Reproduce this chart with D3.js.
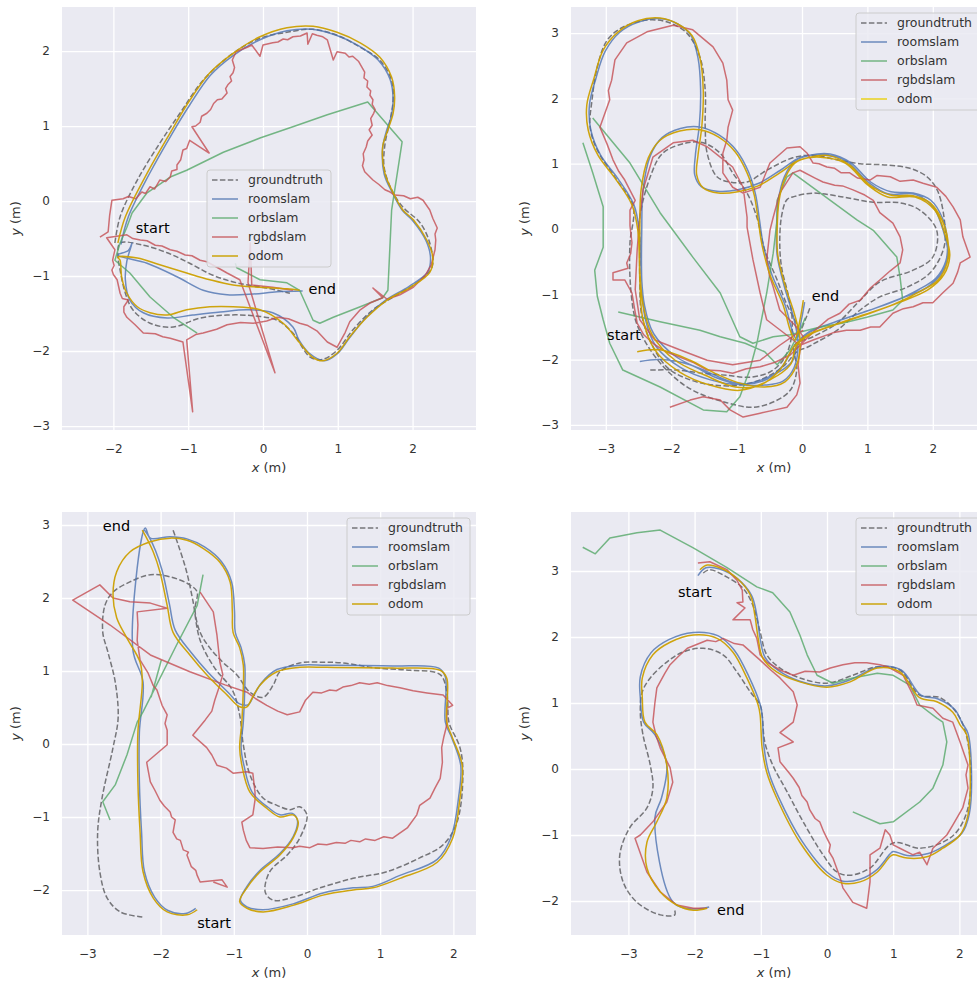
<!DOCTYPE html>
<html>
<head>
<meta charset="utf-8">
<script src="https://cdn.jsdelivr.net/npm/d3@7"></script>
<style>
body { margin: 0; background: #fff; }
svg { display: block; }
text { font-family: "DejaVu Sans", sans-serif; }
</style>
</head>
<body>
<svg id="chart" width="977" height="983"></svg>
<script>
// series shared by all four runs
const seriesNames = ['groundtruth', 'roomslam', 'orbslam', 'rgbdslam', 'odom']
const seriesColors = { groundtruth: '#000', roomslam: '#4C72B0', orbslam: '#55A868', rgbdslam: '#C44E52', odom: '#CCA000' }

// ---- run 1 (top left) ----
const run1Ground = [[-1.98,-0.56],[-1.91,-0.21],[-1.68,0.28],[-1.38,0.77],[-1.11,1.17],[-0.80,1.61],[-0.40,1.97],[-0.04,2.17],[0.32,2.25],[0.67,2.29],[0.99,2.21],[1.30,2.05],[1.56,1.88],[1.72,1.61],[1.74,1.35],[1.70,1.08],[1.63,0.75],[1.62,0.45],[1.72,0.15],[1.87,-0.08],[2.10,-0.29],[2.23,-0.56],[2.26,-0.88],[2.06,-1.09],[1.74,-1.28],[1.47,-1.45],[1.20,-1.72],[0.99,-1.99],[0.80,-2.11],[0.63,-2.08],[0.40,-1.76],[0.19,-1.59],[-0.13,-1.53],[-0.48,-1.52],[-0.84,-1.56],[-1.20,-1.68],[-1.51,-1.63],[-1.74,-1.45],[-1.84,-1.23],[-1.91,-0.92],[-1.94,-0.72],[-1.91,-0.56],[-1.60,-0.59],[-1.28,-0.69],[-0.98,-0.83],[-0.67,-0.99],[-0.35,-1.09],[0.05,-1.16],[0.36,-1.23]]
const run1Room = [[-1.90,-0.58],[-1.80,-0.21],[-1.52,0.36],[-1.22,0.89],[-0.98,1.28],[-0.70,1.68],[-0.40,1.94],[-0.04,2.15],[0.32,2.27],[0.66,2.29],[0.98,2.21],[1.28,2.07],[1.54,1.88],[1.70,1.62],[1.74,1.37],[1.72,1.15],[1.65,0.93],[1.60,0.71],[1.62,0.36],[1.73,0.11],[1.86,-0.12],[2.00,-0.26],[2.18,-0.53],[2.24,-0.76],[2.20,-0.95],[1.95,-1.14],[1.64,-1.32],[1.38,-1.55],[1.16,-1.82],[0.99,-2.04],[0.82,-2.13],[0.62,-2.03],[0.48,-1.85],[0.40,-1.68],[0.13,-1.49],[-0.21,-1.45],[-0.57,-1.48],[-0.94,-1.52],[-1.28,-1.56],[-1.60,-1.49],[-1.78,-1.32],[-1.84,-1.05],[-1.82,-0.80],[-1.75,-0.56],[-1.80,-0.66],[-1.94,-0.72],[-1.55,-0.83],[-1.15,-1.01],[-0.80,-1.19],[-0.48,-1.25],[-0.13,-1.24],[0.19,-1.21],[0.53,-1.20]]
const run1Orb = [[-0.88,-1.76],[-1.20,-1.55],[-1.51,-1.28],[-1.78,-0.96],[-1.98,-0.79],[-1.91,-0.56],[-1.82,-0.35],[-1.75,-0.16],[-1.55,0.11],[-1.24,0.32],[-1.02,0.41],[-0.53,0.65],[-0.04,0.84],[0.40,0.99],[0.86,1.15],[1.40,1.32],[1.86,0.79],[1.72,-0.12],[1.67,-1.19],[1.60,-1.29],[1.30,-1.41],[0.94,-1.55],[0.76,-1.63],[0.67,-1.59],[0.49,-1.19],[0.32,-1.09],[-0.04,-1.05],[-0.35,-0.89],[-0.37,-0.83]]
const run1Rgbd = [[-2.18,-0.48],[-2.07,-0.41],[-2.05,-0.19],[-2.02,0.01],[-1.87,0.03],[-1.80,0.06],[-1.70,0.03],[-1.62,0.12],[-1.57,0.10],[-1.51,0.19],[-1.45,0.16],[-1.38,0.28],[-1.30,0.26],[-1.24,0.32],[-1.22,0.40],[-1.15,0.42],[-1.15,0.48],[-1.10,0.55],[-1.07,0.68],[-1.02,0.70],[-0.98,0.81],[-0.72,0.64],[-0.95,0.99],[-0.90,1.00],[-0.84,1.05],[-0.82,1.13],[-0.75,1.17],[-0.70,1.22],[-0.66,1.30],[-0.61,1.35],[-0.55,1.36],[-0.48,1.44],[-0.50,1.50],[-0.47,1.55],[-0.42,1.60],[-0.44,1.66],[-0.40,1.71],[-0.38,1.78],[-0.41,1.88],[-0.36,1.99],[-0.21,2.05],[-0.15,2.08],[-0.04,1.93],[0.00,2.08],[0.13,2.11],[0.20,2.12],[0.27,2.16],[0.33,2.15],[0.40,2.19],[0.50,2.20],[0.59,2.24],[0.60,2.09],[0.66,2.23],[0.72,2.21],[0.80,2.19],[0.86,2.15],[0.94,1.88],[0.99,1.99],[1.10,1.97],[1.15,1.92],[1.20,1.93],[1.28,1.86],[1.32,1.79],[1.36,1.72],[1.35,1.64],[1.40,1.60],[1.39,1.52],[1.44,1.47],[1.43,1.41],[1.47,1.35],[1.46,1.29],[1.50,1.22],[1.48,1.17],[1.44,1.10],[1.46,1.01],[1.42,0.95],[1.46,0.88],[1.40,0.80],[1.38,0.72],[1.34,0.63],[1.35,0.55],[1.33,0.47],[1.36,0.39],[1.42,0.33],[1.47,0.28],[1.55,0.22],[1.63,0.15],[1.70,0.12],[1.76,0.08],[1.88,0.07],[1.97,0.03],[2.07,0.05],[2.14,0.01],[2.23,-0.12],[2.27,-0.23],[2.33,-0.36],[2.30,-0.44],[2.31,-0.52],[2.30,-0.65],[2.25,-0.85],[2.17,-0.99],[2.01,-1.15],[1.83,-1.25],[1.66,-1.31],[1.47,-1.16],[1.60,-1.29],[1.43,-1.36],[1.30,-1.45],[1.16,-1.61],[1.10,-1.75],[0.99,-1.95],[0.86,-1.88],[0.72,-1.73],[0.60,-1.66],[0.49,-1.63],[0.34,-1.57],[0.19,-1.55],[0.05,-1.60],[-0.13,-1.63],[-0.30,-1.62],[-0.48,-1.65],[-0.62,-1.71],[-0.80,-1.76],[-0.90,-1.78],[-1.02,-1.85],[-0.94,-2.81],[-1.07,-1.88],[-1.24,-1.83],[-1.34,-1.81],[-1.44,-1.77],[-1.60,-1.76],[-1.71,-1.65],[-1.82,-1.55],[-1.86,-1.48],[-1.86,-1.41],[-1.80,-1.32],[-1.88,-1.30],[-1.91,-1.23],[-1.93,-1.14],[-1.95,-1.05],[-2.00,-0.98],[-2.02,-0.92],[-1.99,-0.86],[-2.01,-0.79],[-1.98,-0.65],[-2.09,-0.49],[-1.82,-0.45],[-1.74,-0.50],[-1.64,-0.52],[-1.55,-0.53],[-1.44,-0.59],[-1.35,-0.60],[-1.24,-0.65],[-1.15,-0.67],[-1.04,-0.72],[-0.95,-0.73],[-0.84,-0.79],[-0.75,-0.81],[-0.64,-0.87],[-0.48,-0.96],[-0.31,-1.05],[0.16,-2.29],[-0.20,-1.09],[-0.17,-0.56],[-0.15,-1.12],[0.13,-1.15],[0.40,-1.19]]
const run1Odom = [[-1.94,-0.56],[-1.84,-0.21],[-1.55,0.37],[-1.24,0.91],[-1.00,1.31],[-0.71,1.71],[-0.40,1.97],[-0.04,2.19],[0.32,2.31],[0.67,2.33],[0.99,2.25],[1.30,2.11],[1.56,1.92],[1.72,1.65],[1.76,1.39],[1.74,1.17],[1.67,0.95],[1.60,0.72],[1.63,0.37],[1.74,0.11],[1.87,-0.12],[2.01,-0.25],[2.19,-0.52],[2.27,-0.75],[2.23,-0.95],[1.97,-1.15],[1.66,-1.32],[1.39,-1.55],[1.16,-1.81],[0.99,-2.03],[0.80,-2.13],[0.66,-2.08],[0.49,-1.89],[0.27,-1.63],[-0.04,-1.45],[-0.40,-1.41],[-0.71,-1.41],[-1.02,-1.45],[-1.28,-1.52],[-1.51,-1.49],[-1.68,-1.41],[-1.82,-1.23],[-1.89,-1.01],[-1.91,-0.79],[-1.94,-0.75],[-1.68,-0.76],[-1.38,-0.85],[-1.02,-0.96],[-0.71,-1.05],[-0.40,-1.12],[-0.04,-1.15],[0.32,-1.17],[0.49,-1.19]]

// ---- run 2 (top right) ----
const run2Ground = [[-2.32,-2.16],[-1.91,-2.16],[-1.51,-2.21],[-1.15,-2.24],[-0.80,-2.27],[-0.49,-2.19],[-0.29,-2.01],[-0.18,-1.75],[-0.15,-1.39],[-0.21,-1.01],[-0.31,-0.60],[-0.34,-0.21],[-0.31,0.21],[-0.23,0.45],[-0.11,0.50],[0.17,0.55],[0.63,0.49],[1.09,0.41],[1.50,0.40],[1.80,0.29],[2.06,-0.02],[2.00,-0.43],[1.70,-0.63],[1.19,-0.81],[0.89,-1.09],[0.54,-1.44],[0.17,-1.65],[-0.11,-1.78],[-0.08,-2.16],[-0.18,-2.47],[-0.44,-2.65],[-0.75,-2.73],[-1.15,-2.66],[-1.67,-2.47],[-2.02,-2.21],[-2.32,-1.85],[-2.52,-1.47],[-2.58,-1.24],[-2.63,-0.74],[-2.63,-0.21],[-2.58,0.34],[-2.83,0.75],[-3.13,1.21],[-3.24,1.56],[-3.21,1.98],[-3.13,2.48],[-2.98,2.89],[-2.74,3.09],[-2.37,3.20],[-2.06,3.17],[-1.76,3.00],[-1.56,2.63],[-1.48,2.13],[-1.48,1.56],[-1.45,1.16],[-1.30,0.80],[-1.10,0.72],[-0.84,0.72],[-0.54,0.90],[-0.14,1.09],[0.17,1.13],[0.54,1.06],[0.89,1.00],[1.30,0.98],[1.65,0.93],[1.91,0.80],[2.08,0.57],[2.19,-0.02],[2.16,-0.32],[1.96,-0.67],[1.61,-0.89],[1.19,-1.04],[0.89,-1.24],[0.54,-1.55],[0.23,-1.73],[0.08,-1.81],[-0.08,-1.88],[-0.26,-2.08],[-0.57,-2.28],[-0.95,-2.39],[-1.36,-2.39],[-1.71,-2.31],[-2.05,-2.13],[-2.29,-1.78],[-2.45,-1.32],[-2.48,-0.78],[-2.48,-0.17],[-2.48,0.18],[-2.32,0.80],[-2.13,1.16],[-1.76,1.32],[-1.51,1.32],[-1.25,1.16],[-1.06,0.86],[-0.84,0.55],[-0.69,0.18],[-0.57,-0.32],[-0.38,-0.78],[-0.23,-1.16],[-0.11,-1.39],[-0.03,-1.55],[0.05,-1.39],[0.12,-1.21]]
const run2Room = [[-2.48,-2.03],[-2.17,-2.00],[-1.71,-2.08],[-1.33,-2.27],[-0.95,-2.38],[-0.57,-2.39],[-0.29,-2.33],[-0.12,-2.12],[-0.06,-1.75],[-0.13,-1.35],[-0.27,-0.88],[-0.38,-0.40],[-0.39,-0.02],[-0.36,0.45],[-0.27,0.80],[-0.11,1.04],[0.12,1.13],[0.43,1.15],[0.74,1.02],[1.05,0.72],[1.36,0.57],[1.70,0.55],[1.97,0.44],[2.15,0.16],[2.22,-0.16],[2.20,-0.49],[2.05,-0.75],[1.78,-0.93],[1.38,-1.12],[0.89,-1.29],[0.43,-1.45],[0.10,-1.58],[-0.09,-1.75],[-0.30,-2.10],[-0.60,-2.33],[-1.00,-2.36],[-1.46,-2.18],[-1.92,-1.96],[-2.27,-1.60],[-2.41,-1.16],[-2.46,-0.63],[-2.49,-0.02],[-2.57,0.37],[-2.82,0.78],[-3.08,1.13],[-3.23,1.52],[-3.25,1.90],[-3.15,2.31],[-3.01,2.72],[-2.79,3.01],[-2.50,3.17],[-2.15,3.22],[-1.90,3.14],[-1.70,2.97],[-1.59,2.62],[-1.55,2.13],[-1.57,1.59],[-1.63,1.13],[-1.64,0.83],[-1.54,0.65],[-1.30,0.58],[-0.98,0.60],[-0.66,0.70],[-0.33,0.90],[-0.02,1.10],[0.28,1.14],[0.66,1.05],[1.01,0.72],[1.31,0.54],[1.73,0.53],[2.01,0.33],[2.17,-0.06],[2.23,-0.38],[2.14,-0.67],[1.90,-0.90],[1.47,-1.08],[1.02,-1.25],[0.49,-1.43],[0.12,-1.58],[-0.06,-1.75],[-0.15,-2.03],[-0.45,-2.24],[-0.93,-2.38],[-1.40,-2.31],[-1.86,-2.12],[-2.23,-1.80],[-2.40,-1.36],[-2.45,-0.78],[-2.45,-0.02],[-2.43,0.60],[-2.32,1.12],[-2.14,1.40],[-1.86,1.54],[-1.55,1.56],[-1.27,1.44],[-1.00,1.20],[-0.82,0.88],[-0.71,0.53],[-0.65,0.14],[-0.59,-0.25],[-0.46,-0.70],[-0.26,-1.16],[-0.15,-1.55],[-0.08,-1.70],[-0.01,-1.40],[0.04,-1.12]]
const run2Orb = [[-3.35,1.32],[-3.20,0.86],[-3.04,0.34],[-3.04,-0.28],[-3.17,-0.63],[-3.13,-1.03],[-3.04,-1.39],[-2.94,-1.75],[-2.74,-2.16],[-2.17,-2.42],[-1.51,-2.77],[-1.15,-2.80],[-0.95,-2.57],[-0.80,-2.16],[-0.69,-1.75],[-0.54,-0.98],[-0.44,-0.37],[-0.38,0.14],[-0.38,0.44],[-0.23,0.80],[-0.14,0.86],[0.84,0.14],[1.09,-0.02],[1.45,-0.43],[1.50,-0.74],[1.54,-1.09],[1.39,-1.24],[0.99,-1.35],[0.63,-1.44],[0.28,-1.50],[0.08,-1.55],[-0.18,-1.62],[-0.44,-1.65],[-0.75,-1.75],[-0.95,-1.65],[-1.25,-0.98],[-1.67,-0.43],[-2.17,0.25],[-2.63,1.01],[-3.20,1.70],null,[-2.81,-1.27],[-2.17,-1.42],[-1.56,-1.55],[-1.25,-1.65],[-0.87,-1.75],[-0.57,-1.88],[-0.38,-2.08],[-0.18,-1.85],[-0.03,-1.55],[0.05,-1.36]]
const run2Rgbd = [[-2.02,-2.73],[-1.71,-2.62],[-1.51,-2.57],[-1.25,-2.62],[-1.10,-2.77],[-0.90,-2.88],[-0.64,-2.82],[-0.41,-2.77],[-0.23,-2.73],[-0.08,-2.54],[-0.03,-2.36],[-0.06,-2.08],[-0.03,-1.85],[0.02,-1.65],[-0.11,-1.47],[-0.34,-1.24],[-0.44,-0.89],[-0.50,-0.70],[-0.54,-0.47],[-0.49,-0.02],[-0.44,0.18],[-0.34,0.55],[-0.14,0.86],[-0.03,0.90],[0.20,0.78],[0.32,0.72],[0.50,0.67],[0.62,0.66],[0.78,0.60],[0.96,0.52],[1.09,0.44],[1.19,0.25],[1.39,0.09],[1.50,-0.12],[1.54,-0.32],[1.50,-0.52],[1.35,-0.64],[1.19,-0.78],[1.05,-0.90],[0.89,-1.09],[0.72,-1.15],[0.58,-1.29],[0.40,-1.38],[0.20,-1.55],[0.05,-1.70],[-0.18,-1.93],[-0.41,-2.04],[-0.64,-2.11],[-0.85,-2.14],[-1.06,-2.21],[-1.25,-2.17],[-1.45,-2.16],[-1.65,-2.05],[-1.87,-1.96],[-2.08,-1.88],[-2.28,-1.75],[-2.42,-1.62],[-2.52,-1.44],[-2.56,-1.22],[-2.60,-0.98],[-2.71,-0.78],[-2.89,-0.78],[-2.89,-0.67],[-2.66,-0.60],[-2.68,-0.52],[-2.62,-0.38],[-2.60,-0.21],[-2.63,0.05],[-2.63,0.29],[-2.55,0.44],[-2.71,0.75],[-2.80,0.88],[-2.89,1.06],[-2.98,1.30],[-3.09,1.56],[-2.94,1.98],[-2.96,2.12],[-2.91,2.28],[-2.86,2.59],[-2.68,2.85],[-2.37,3.02],[-1.97,3.12],[-1.67,3.05],[-1.36,2.79],[-1.21,2.54],[-1.15,2.28],[-1.13,1.98],[-1.06,1.82],[-1.13,1.56],[-1.15,1.36],[-1.21,1.16],[-1.21,0.86],[-1.06,0.64],[-0.90,0.55],[-0.64,0.64],[-0.49,1.01],[-0.23,1.24],[-0.03,1.26],[0.08,1.16],[0.17,1.01],[0.26,1.00],[0.38,0.95],[0.50,0.93],[0.60,0.86],[0.73,0.86],[0.85,0.78],[1.04,0.75],[1.15,0.82],[1.35,0.80],[1.50,0.73],[1.70,0.75],[1.85,0.70],[2.06,0.64],[2.20,0.50],[2.31,0.34],[2.42,0.14],[2.46,-0.12],[2.57,-0.43],[2.42,-0.52],[2.38,-0.66],[2.31,-0.83],[2.15,-0.98],[2.00,-1.13],[1.85,-1.13],[1.70,-1.19],[1.55,-1.22],[1.39,-1.29],[1.19,-1.50],[1.05,-1.50],[0.89,-1.55],[0.68,-1.55],[0.47,-1.59],[0.17,-1.70],[-0.03,-1.78],[-0.54,-1.39],[-0.64,-0.98],[-0.75,-0.47],[-0.84,0.03],[-0.84,0.18],[-0.90,0.64],[-1.06,0.95],[-1.25,1.10],[-1.45,1.26],[-1.67,1.36],[-1.97,1.32],[-2.28,1.10],[-2.43,0.60],[-2.48,0.18],[-2.52,-0.32],[-2.55,-0.93],[-2.48,-1.39],[-2.25,-1.70],[-1.87,-1.85],[-1.45,-2.01],[-1.06,-2.08],[-0.64,-2.01],[-0.34,-1.78],[-0.11,-1.62],[0.02,-1.55]]
const run2Odom = [[-2.52,-1.88],[-2.17,-1.85],[-1.71,-2.01],[-1.33,-2.21],[-0.95,-2.36],[-0.57,-2.42],[-0.26,-2.34],[-0.08,-2.08],[-0.03,-1.70],[-0.11,-1.32],[-0.26,-0.86],[-0.37,-0.40],[-0.38,-0.02],[-0.35,0.44],[-0.26,0.78],[-0.11,1.01],[0.12,1.10],[0.43,1.12],[0.73,0.98],[1.04,0.67],[1.35,0.52],[1.70,0.51],[1.96,0.40],[2.14,0.14],[2.23,-0.17],[2.22,-0.51],[2.08,-0.78],[1.80,-0.96],[1.39,-1.16],[0.89,-1.33],[0.43,-1.49],[0.09,-1.62],[-0.11,-1.78],[-0.34,-2.16],[-0.64,-2.39],[-1.02,-2.42],[-1.48,-2.24],[-1.94,-2.01],[-2.29,-1.62],[-2.43,-1.16],[-2.48,-0.63],[-2.51,-0.02],[-2.60,0.37],[-2.86,0.78],[-3.12,1.13],[-3.27,1.52],[-3.29,1.90],[-3.18,2.31],[-3.04,2.74],[-2.81,3.02],[-2.51,3.19],[-2.17,3.23],[-1.90,3.14],[-1.68,2.96],[-1.56,2.62],[-1.51,2.13],[-1.53,1.59],[-1.59,1.13],[-1.61,0.83],[-1.51,0.63],[-1.28,0.55],[-0.98,0.57],[-0.67,0.66],[-0.34,0.86],[-0.03,1.06],[0.28,1.10],[0.66,1.01],[1.01,0.67],[1.31,0.49],[1.73,0.49],[2.03,0.29],[2.19,-0.09],[2.26,-0.40],[2.17,-0.70],[1.93,-0.93],[1.50,-1.12],[1.04,-1.29],[0.50,-1.47],[0.12,-1.62],[-0.08,-1.78],[-0.18,-2.08],[-0.49,-2.31],[-0.95,-2.47],[-1.41,-2.39],[-1.87,-2.19],[-2.25,-1.85],[-2.43,-1.39],[-2.48,-0.78],[-2.48,-0.02],[-2.46,0.60],[-2.35,1.09],[-2.17,1.36],[-1.87,1.50],[-1.56,1.52],[-1.28,1.41],[-1.02,1.18],[-0.84,0.86],[-0.73,0.52],[-0.67,0.14],[-0.61,-0.25],[-0.49,-0.70],[-0.29,-1.16],[-0.18,-1.55],[-0.11,-1.70],[-0.03,-1.39],[0.02,-1.09]]

// ---- run 3 (bottom left) ----
const run3Ground = [[-2.25,-2.37],[-2.55,-2.30],[-2.73,-2.11],[-2.83,-1.75],[-2.86,-1.21],[-2.80,-0.74],[-2.65,-0.05],[-2.58,0.36],[-2.62,0.85],[-2.72,1.26],[-2.79,1.53],[-2.76,1.90],[-2.65,2.08],[-2.42,2.22],[-2.14,2.32],[-1.87,2.29],[-1.60,2.18],[-1.50,2.08],[-1.53,1.84],[-1.46,1.53],[-1.33,1.32],[-1.15,1.12],[-0.96,0.95],[-0.78,0.71],[-0.60,0.64],[-0.46,0.81],[-0.37,0.99],[-0.10,1.11],[0.22,1.12],[0.49,1.11],[0.96,1.04],[1.41,1.01],[1.82,0.95],[1.91,0.71],[1.93,0.36],[1.95,0.26],[2.09,-0.05],[2.13,-0.42],[2.05,-1.07],[1.86,-1.38],[1.54,-1.56],[1.09,-1.75],[0.63,-1.84],[0.18,-1.97],[-0.19,-2.10],[-0.46,-2.14],[-0.57,-2.03],[-0.51,-1.75],[-0.27,-1.52],[-0.10,-1.29],[0.00,-0.97],[-0.10,-0.86],[-0.23,-0.90],[-0.41,-0.84],[-0.60,-0.74],[-0.78,-0.42],[-0.87,-0.01],[-0.92,0.40],[-1.02,0.74],[-1.26,1.04],[-1.46,1.42],[-1.56,1.97],[-1.65,2.38],[-1.76,2.73],[-1.84,2.96]]
const run3Room = [[-1.52,-2.25],[-1.66,-2.32],[-1.90,-2.28],[-2.08,-2.10],[-2.22,-1.75],[-2.26,-1.21],[-2.29,-0.52],[-2.29,0.16],[-2.24,0.85],[-2.38,1.30],[-2.21,2.96],[-2.14,2.82],[-1.87,2.84],[-1.64,2.81],[-1.40,2.70],[-1.17,2.50],[-1.03,2.22],[-0.99,1.81],[-0.98,1.53],[-0.90,1.32],[-0.85,1.08],[-0.85,0.77],[-0.87,0.30],[-0.90,-0.05],[-0.86,-0.30],[-0.75,-0.66],[-0.53,-0.87],[-0.37,-0.97],[-0.20,-0.95],[-0.13,-1.05],[-0.19,-1.27],[-0.37,-1.50],[-0.63,-1.72],[-0.82,-1.95],[-0.91,-2.14],[-0.82,-2.23],[-0.60,-2.27],[-0.19,-2.19],[0.22,-2.04],[0.63,-1.97],[0.90,-1.95],[1.27,-1.80],[1.78,-1.58],[1.97,-1.27],[2.07,-0.74],[2.10,-0.29],[1.98,0.08],[1.89,0.30],[1.89,0.92],[1.80,1.04],[1.17,1.07],[0.27,1.08],[-0.10,1.08],[-0.41,1.02],[-0.62,0.84],[-0.73,0.66],[-0.80,0.54],[-0.92,0.55],[-1.07,0.70],[-1.35,0.98],[-1.58,1.25],[-1.80,1.56],[-1.88,1.92],[-1.98,2.38],[-2.07,2.65],[-2.16,2.84],[-2.22,2.93]]
const run3Orb = [[-2.69,-1.04],[-2.79,-0.79],[-2.62,-0.56],[-2.46,-0.15],[-2.32,0.30],[-2.24,0.44],[-2.01,0.90],[-1.78,1.36],[-1.50,1.90],[-1.42,2.32],null,[-1.99,1.15],[-2.13,0.64]]
const run3Rgbd = [[-1.28,-1.89],[-1.09,-1.96],[-1.16,-1.86],[-1.46,-1.89],[-1.50,-1.80],[-1.52,-1.73],[-1.58,-1.68],[-1.64,-1.52],[-1.62,-1.48],[-1.69,-1.45],[-1.73,-1.32],[-1.78,-1.30],[-1.83,-1.21],[-1.80,-1.04],[-1.85,-1.00],[-1.87,-0.93],[-1.95,-0.85],[-2.01,-0.77],[-2.08,-0.63],[-2.14,-0.52],[-2.17,-0.36],[-2.19,-0.25],[-1.91,-0.01],[-1.91,0.19],[-1.94,0.28],[-1.91,0.40],[-1.98,0.53],[-2.05,0.74],[-2.10,0.80],[-2.17,0.97],[-2.28,1.15],[-2.32,1.42],[-2.31,1.63],[-2.32,1.81],[-1.91,1.86],[-2.14,1.93],[-2.42,1.95],[-2.65,2.00],[-2.83,2.18],[-3.20,1.97],[-2.69,1.63],[-2.14,1.22],[-1.60,0.99],[-1.12,0.81],[-0.82,0.71],[-0.70,0.62],[-0.55,0.53],[-0.40,0.45],[-0.27,0.40],[-0.10,0.44],[-0.02,0.60],[0.08,0.71],[0.20,0.70],[0.31,0.74],[0.40,0.73],[0.49,0.78],[0.60,0.80],[0.72,0.84],[0.85,0.82],[0.96,0.84],[1.10,0.80],[1.27,0.77],[1.45,0.73],[1.64,0.70],[1.86,0.67],[1.99,0.53],[1.91,0.49],[1.91,0.26],[1.87,0.10],[1.84,-0.05],[1.85,-0.25],[1.82,-0.47],[1.75,-0.60],[1.68,-0.74],[1.54,-0.84],[1.50,-0.97],[1.37,-1.15],[1.17,-1.29],[1.05,-1.27],[0.93,-1.32],[0.80,-1.30],[0.72,-1.34],[0.60,-1.32],[0.52,-1.36],[0.40,-1.35],[0.27,-1.38],[0.15,-1.37],[0.04,-1.42],[-0.10,-1.40],[-0.19,-1.42],[-0.40,-1.41],[-0.60,-1.43],[-0.78,-1.42],[-0.83,-1.32],[-0.87,-1.18],[-0.89,-1.07],[-0.74,-0.97],[-0.71,-0.77],[-0.71,-0.66],[-0.74,-0.40],[-0.82,-0.38],[-1.01,-0.40],[-1.10,-0.33],[-1.23,-0.29],[-1.30,-0.15],[-1.37,-0.05],[-1.56,0.12],[-1.39,0.33],[-1.30,0.45],[-1.26,0.60],[-1.20,0.78],[-1.15,0.95],[-1.19,1.12],[-1.23,1.49],[-1.28,1.81],[-1.46,2.08]]
const run3Odom = [[-1.50,-2.27],[-1.64,-2.34],[-1.91,-2.30],[-2.10,-2.11],[-2.24,-1.75],[-2.28,-1.21],[-2.31,-0.52],[-2.31,0.16],[-2.25,0.85],[-2.28,1.12],[-2.46,1.45],[-2.60,1.73],[-2.65,2.04],[-2.60,2.36],[-2.42,2.63],[-2.14,2.77],[-1.87,2.82],[-1.64,2.79],[-1.42,2.68],[-1.19,2.49],[-1.05,2.22],[-1.02,1.81],[-1.01,1.53],[-0.92,1.32],[-0.87,1.08],[-0.87,0.77],[-0.89,0.30],[-0.92,-0.05],[-0.89,-0.29],[-0.78,-0.66],[-0.55,-0.88],[-0.37,-1.00],[-0.19,-0.97],[-0.12,-1.07],[-0.19,-1.29],[-0.37,-1.52],[-0.64,-1.75],[-0.82,-1.97],[-0.92,-2.16],[-0.82,-2.25],[-0.60,-2.30],[-0.19,-2.21],[0.22,-2.07],[0.63,-2.00],[0.90,-1.97],[1.27,-1.84],[1.78,-1.62],[1.99,-1.29],[2.09,-0.74],[2.12,-0.29],[1.99,0.08],[1.91,0.30],[1.91,0.90],[1.82,1.01],[1.17,1.04],[0.27,1.05],[-0.10,1.05],[-0.41,0.99],[-0.64,0.81],[-0.75,0.63],[-0.82,0.51],[-0.92,0.51],[-1.09,0.67],[-1.37,0.95],[-1.60,1.22],[-1.83,1.53],[-1.91,1.90],[-2.01,2.36],[-2.10,2.63],[-2.19,2.82],[-2.25,2.93]]

// ---- run 4 (bottom right) ----
const run4Ground = [[-1.87,2.97],[-1.77,3.02],[-1.57,2.94],[-1.27,2.74],[-1.12,2.48],[-1.01,2.08],[-0.91,1.73],[-0.71,1.53],[-0.41,1.38],[0.00,1.30],[0.39,1.42],[0.76,1.55],[1.10,1.50],[1.40,1.12],[1.71,1.08],[2.01,0.77],[2.16,0.17],[2.13,-0.59],[1.96,-0.95],[1.75,-1.11],[1.40,-1.20],[1.00,-1.12],[0.65,-1.50],[0.35,-1.61],[0.15,-1.56],[-0.06,-1.30],[-0.36,-0.80],[-0.60,-0.35],[-0.82,0.06],[-0.94,0.41],[-0.98,0.82],[-1.01,0.97],[-1.16,1.17],[-1.36,1.47],[-1.57,1.73],[-1.87,1.83],[-2.18,1.77],[-2.42,1.62],[-2.67,1.38],[-2.79,1.17],[-2.82,0.86],[-2.78,0.52],[-2.67,0.06],[-2.63,-0.29],[-2.72,-0.59],[-2.98,-0.89],[-3.13,-1.30],[-3.08,-1.71],[-2.87,-2.02],[-2.52,-2.21],[-2.30,-2.21],[-2.30,-2.14]]
const run4Room = [[-1.95,2.93],[-1.83,3.05],[-1.62,3.03],[-1.35,2.88],[-1.14,2.63],[-1.06,2.33],[-1.01,1.98],[-0.94,1.70],[-0.73,1.49],[-0.41,1.33],[0.00,1.26],[0.35,1.35],[0.78,1.55],[1.12,1.50],[1.42,1.12],[1.68,1.06],[1.93,0.90],[2.04,0.70],[2.13,0.54],[2.18,0.06],[2.15,-0.68],[2.04,-0.97],[1.78,-1.16],[1.53,-1.28],[1.21,-1.31],[1.00,-1.25],[0.95,-1.29],[0.76,-1.52],[0.50,-1.67],[0.24,-1.70],[0.02,-1.58],[-0.38,-1.09],[-0.73,-0.43],[-0.88,-0.05],[-0.95,0.32],[-0.98,0.82],[-1.01,0.98],[-1.18,1.40],[-1.40,1.80],[-1.65,2.02],[-2.02,2.07],[-2.39,1.96],[-2.66,1.76],[-2.82,1.40],[-2.82,1.08],[-2.77,0.71],[-2.60,0.52],[-2.42,0.06],[-2.50,-0.44],[-2.60,-0.74],[-2.33,-2.01],[-2.05,-2.12],[-1.78,-2.09]]
const run4Orb = [[-3.69,3.36],[-3.50,3.26],[-3.28,3.50],[-2.87,3.58],[-2.52,3.62],[-2.02,3.35],[-1.51,3.05],[-1.06,2.76],[-0.82,2.67],[-0.56,2.38],[-0.41,2.03],[-0.30,1.73],[-0.15,1.42],[0.09,1.30],[0.39,1.38],[0.76,1.45],[1.00,1.42],[1.25,1.27],[1.40,0.97],[1.66,0.77],[1.75,0.71],[1.81,0.41],[1.75,0.06],[1.60,-0.29],[1.40,-0.50],[1.00,-0.80],[0.80,-0.83],[0.39,-0.65]]
const run4Rgbd = [[-1.95,3.12],[-1.77,3.14],[-1.51,3.02],[-1.36,2.86],[-1.28,2.71],[-1.27,2.53],[-1.36,2.52],[-1.24,2.44],[-1.42,2.26],[-1.16,2.26],[-1.12,2.11],[-1.06,1.98],[-1.01,1.73],[-0.91,1.62],[-0.71,1.50],[-0.51,1.42],[-0.33,1.48],[-0.11,1.47],[0.05,1.53],[0.24,1.58],[0.42,1.61],[0.60,1.61],[0.80,1.58],[0.91,1.55],[1.15,1.42],[1.30,1.12],[1.36,0.97],[1.60,0.92],[1.75,0.77],[1.90,0.71],[2.01,0.41],[2.13,0.06],[2.10,-0.09],[2.13,-0.29],[2.05,-0.59],[1.90,-0.85],[1.81,-1.00],[1.60,-1.20],[1.51,-1.45],[1.40,-1.26],[1.30,-1.30],[1.10,-1.20],[1.00,-1.15],[0.95,-1.00],[0.88,-0.92],[0.80,-1.20],[0.65,-1.30],[0.65,-1.71],[0.60,-2.11],[0.39,-2.02],[0.24,-1.80],[0.20,-1.65],[0.09,-1.35],[0.03,-1.25],[0.05,-1.15],[0.00,-1.05],[-0.05,-0.95],[-0.11,-0.80],[-0.18,-0.75],[-0.26,-0.62],[-0.30,-0.50],[-0.38,-0.40],[-0.42,-0.28],[-0.51,-0.14],[-0.58,-0.05],[-0.71,0.11],[-0.74,0.32],[-0.51,0.41],[-0.71,0.55],[-0.51,0.71],[-0.45,0.97],[-0.51,1.17],[-0.71,1.38],[-0.85,1.50],[-1.01,1.65],[-1.27,1.88],[-1.40,1.90],[-1.57,1.98],[-1.68,1.93],[-1.81,1.95],[-2.11,1.83],[-2.25,1.70],[-2.37,1.58],[-2.45,1.45],[-2.57,1.23],[-2.60,1.00],[-2.63,0.71],[-2.58,0.50],[-2.52,0.32],[-2.37,0.02],[-2.33,-0.20],[-2.42,-0.50],[-2.63,-0.80],[-2.82,-1.00],[-2.90,-1.05],[-2.72,-1.56],[-2.52,-1.86],[-2.27,-2.06],[-2.02,-2.11],[-1.81,-2.11]]
const run4Odom = [[-1.92,3.02],[-1.81,3.09],[-1.62,3.05],[-1.36,2.89],[-1.16,2.64],[-1.09,2.33],[-1.04,1.98],[-0.97,1.68],[-0.76,1.47],[-0.41,1.32],[0.00,1.24],[0.35,1.32],[0.76,1.53],[1.10,1.47],[1.40,1.08],[1.66,1.02],[1.90,0.86],[2.01,0.67],[2.11,0.52],[2.16,0.06],[2.13,-0.70],[2.01,-1.00],[1.75,-1.20],[1.51,-1.33],[1.21,-1.35],[1.00,-1.30],[0.95,-1.33],[0.76,-1.56],[0.50,-1.71],[0.24,-1.73],[0.00,-1.61],[-0.41,-1.11],[-0.76,-0.44],[-0.91,-0.05],[-0.98,0.32],[-1.01,0.82],[-1.04,0.97],[-1.21,1.38],[-1.42,1.77],[-1.66,1.98],[-2.02,2.03],[-2.37,1.92],[-2.63,1.73],[-2.79,1.38],[-2.79,1.08],[-2.75,0.71],[-2.57,0.52],[-2.42,0.06],[-2.42,-0.44],[-2.57,-0.80],[-2.72,-1.11],[-2.72,-1.50],[-2.52,-1.86],[-2.27,-2.06],[-2.02,-2.14],[-1.81,-2.11]]

// start / end annotations, [text, x, y] in metres
const run1Marks = [['start', -1.70, -0.43], ['end', 0.61, -1.24]]
const run2Marks = [['start', -2.98, -1.70], ['end', 0.15, -1.10]]
const run3Marks = [['end', -2.79, 2.92], ['start', -1.50, -2.52]]
const run4Marks = [['start', -2.25, 2.61], ['end', -1.66, -2.21]]

const panels = [
    { left: 62, top: 7, width: 414, height: 423, xDomain: [-2.687, 2.848], yDomain: [-3.053, 2.587],
      xTicks: [-2, -1, 0, 1, 2], yTicks: [-3, -2, -1, 0, 1, 2], legend: [207, 170, 124], legendOdom: '#C9A000',
      series: [run1Ground, run1Room, run1Orb, run1Rgbd, run1Odom], marks: run1Marks },
    { left: 571, top: 7, width: 406, height: 423, xDomain: [-3.532, 2.676], yDomain: [-3.078, 3.400],
      xTicks: [-3, -2, -1, 0, 1, 2], yTicks: [-3, -2, -1, 0, 1, 2, 3], legend: [856, 13, 130], legendOdom: '#E8CF10',
      series: [run2Ground, run2Room, run2Orb, run2Rgbd, run2Odom], marks: run2Marks },
    { left: 62, top: 512, width: 414, height: 423, xDomain: [-3.347, 2.309], yDomain: [-2.616, 3.178],
      xTicks: [-3, -2, -1, 0, 1, 2], yTicks: [-2, -1, 0, 1, 2, 3], legend: [347, 518, 123], legendOdom: '#C9A000',
      series: [run3Ground, run3Room, run3Orb, run3Rgbd, run3Odom], marks: run3Marks },
    { left: 571, top: 512, width: 406, height: 423, xDomain: [-3.867, 2.266], yDomain: [-2.515, 3.894],
      xTicks: [-3, -2, -1, 0, 1, 2], yTicks: [-2, -1, 0, 1, 2, 3], legend: [856, 518, 130], legendOdom: '#C9A000',
      series: [run4Ground, run4Room, run4Orb, run4Rgbd, run4Odom], marks: run4Marks }
]

const svg = d3.select('#chart')
svg.append('rect').attr('width', 977).attr('height', 983).attr('fill', '#fff')

function styleLine(sel, name) {
    sel.attr('fill', 'none')
        .attr('stroke', seriesColors[name])
        .attr('stroke-width', 1.5)
        .attr('stroke-linejoin', 'round')
    if (name === 'groundtruth') sel.attr('stroke-opacity', 0.5).attr('stroke-dasharray', '5.5,2.4')
    else if (name === 'odom') sel.attr('stroke-opacity', 0.95)
    else sel.attr('stroke-opacity', 0.8)
}

panels.forEach((p, i) => {
    const g = svg.append('g').attr('transform', `translate(${p.left},${p.top})`)
    const x = d3.scaleLinear().domain(p.xDomain).range([0, p.width])
    const y = d3.scaleLinear().domain(p.yDomain).range([p.height, 0])

    g.append('rect').attr('width', p.width).attr('height', p.height).attr('fill', '#EAEAF2')

    const xAxis = g.append('g').attr('transform', `translate(0,${p.height})`)
        .call(d3.axisBottom(x).tickValues(p.xTicks).tickSize(-p.height).tickPadding(14).tickFormat(d3.format('d')))
    const yAxis = g.append('g')
        .call(d3.axisLeft(y).tickValues(p.yTicks).tickSize(-p.width).tickPadding(12).tickFormat(d3.format('d')))
    ;[xAxis, yAxis].forEach(a => {
        a.select('.domain').remove()
        a.selectAll('line').attr('stroke', '#fff').attr('stroke-width', 1.3)
        a.selectAll('text').attr('fill', '#333').attr('font-size', 12).attr('font-family', '"DejaVu Sans", sans-serif')
    })

    g.append('text').attr('x', p.width / 2).attr('y', p.height + 42).attr('text-anchor', 'middle')
        .attr('font-size', 13).attr('fill', '#333')
        .call(t => { t.append('tspan').attr('font-style', 'italic').text('x'); t.append('tspan').text(' (m)') })
    g.append('text').attr('transform', `translate(-42,${p.height / 2}) rotate(-90)`).attr('text-anchor', 'middle')
        .attr('font-size', 13).attr('fill', '#333')
        .call(t => { t.append('tspan').attr('font-style', 'italic').text('y'); t.append('tspan').text(' (m)') })

    const clipId = `clip${i}`
    g.append('clipPath').attr('id', clipId).append('rect').attr('width', p.width).attr('height', p.height)
    const plot = g.append('g').attr('clip-path', `url(#${clipId})`)

    const smooth = d3.line().defined(d => d !== null).x(d => x(d[0])).y(d => y(d[1])).curve(d3.curveCatmullRom.alpha(0.5))
    const straight = d3.line().defined(d => d !== null).x(d => x(d[0])).y(d => y(d[1]))

    seriesNames.forEach((name, k) => {
        const gen = (name === 'orbslam' || name === 'rgbdslam') ? straight : smooth
        plot.append('path').attr('d', gen(p.series[k])).call(styleLine, name)
    })

    p.marks.forEach(m => {
        g.append('text').attr('x', x(m[1])).attr('y', y(m[2])).attr('font-size', 14.5).attr('fill', '#000').text(m[0])
    })

    // legend, drawn in figure pixels
    const [lx, ly, lw] = p.legend
    const leg = svg.append('g').attr('transform', `translate(${lx},${ly})`)
    leg.append('rect').attr('width', lw).attr('height', 97).attr('rx', 3)
        .attr('fill', '#EAEAF2').attr('fill-opacity', 0.85).attr('stroke', '#CCCCCC').attr('stroke-width', 1)
    seriesNames.forEach((name, k) => {
        const row = leg.append('g').attr('transform', `translate(0,${10 + k * 19})`)
        row.append('line').attr('x1', 5).attr('x2', 31).attr('y1', 0).attr('y2', 0).call(styleLine, name)
        if (name === 'odom') row.select('line').attr('stroke', p.legendOdom)
        row.append('text').attr('x', 41).attr('y', 0).attr('dy', '0.35em').attr('font-size', 12.5).attr('fill', '#333').text(name)
    })
})
</script>
</body>
</html>
